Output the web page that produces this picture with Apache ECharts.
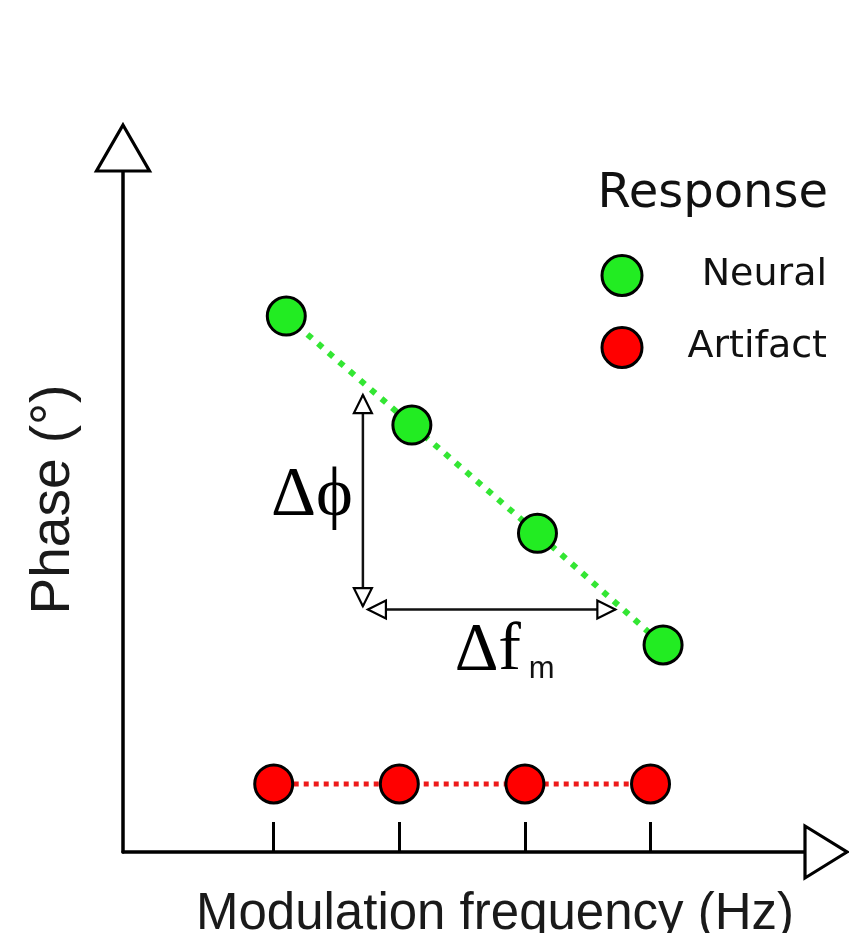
<!DOCTYPE html>
<html>
<head>
<meta charset="utf-8">
<script src="https://cdn.jsdelivr.net/npm/echarts@6/dist/echarts.min.js"></script>
<style>
html,body{margin:0;padding:0;background:#fff;}
#chart{width:849px;height:933px;}
</style>
</head>
<body>
<div id="chart"></div>
<script>
// ---- data ----
const tickValues = [1, 2, 3, 4];
const artifactX = [1, 2, 3, 4];
const artifactPhase = [10, 10, 10, 10];
const neuralX = [1.1, 2.1, 3.1, 4.1];
const neuralPhase = [78.7, 62.7, 46.8, 30.4];
// annotation arrows: [x1, y1, x2, y2, kind]
const deltaPhiArrow = [1.71, 36.1, 1.71, 67.1, 0];
const deltaFArrow = [1.75, 35.6, 3.72, 35.6, 1];
const xRange = [-0.2, 5.23];
const yRange = [0, 100];

const chart = echarts.init(document.getElementById('chart'), null, {renderer: 'canvas'});

function openTriangle(tip, dx, dy, len, half, lw) {
  const bx = tip[0] - dx * len, by = tip[1] - dy * len;
  const px = -dy, py = dx;
  return {
    type: 'polygon',
    shape: {points: [tip, [bx + px * half, by + py * half], [bx - px * half, by - py * half]]},
    style: {fill: '#fff', stroke: '#000', lineWidth: lw, lineJoin: 'miter'}
  };
}

function renderAnnot(params, api) {
  const p1 = api.coord([api.value(0), api.value(1)]);
  const p2 = api.coord([api.value(2), api.value(3)]);
  const kind = api.value(4);
  let dx = p2[0] - p1[0], dy = p2[1] - p1[1];
  const L = Math.sqrt(dx * dx + dy * dy);
  dx /= L; dy /= L;
  const children = [
    {type: 'line', shape: {x1: p1[0], y1: p1[1], x2: p2[0], y2: p2[1]}, style: {stroke: '#111', lineWidth: 2.5}},
    openTriangle(p1, -dx, -dy, 18, 9, 2.2),
    openTriangle(p2, dx, dy, 18, 9, 2.2)
  ];
  if (kind === 0) {
    const mid = (p1[1] + p2[1]) / 2;
    children.push({type: 'text', style: {text: 'Δϕ', x: p1[0] - 10, y: mid - 4,
      align: 'right', verticalAlign: 'middle', fontFamily: 'Liberation Serif', fontSize: 70, fill: '#000'}});
  } else {
    const mid = (p1[0] + p2[0]) / 2;
    children.push({type: 'text', style: {text: 'Δf', x: mid - 37, y: p1[1] + 42,
      align: 'left', verticalAlign: 'middle', fontFamily: 'Liberation Serif', fontSize: 68, fill: '#000'}});
    children.push({type: 'text', style: {text: 'm', x: mid + 37, y: p1[1] + 60,
      align: 'left', verticalAlign: 'middle', fontFamily: 'Liberation Sans', fontSize: 31, fill: '#111'}});
  }
  return {type: 'group', children};
}

function renderAxisArrows(params, api) {
  const p = api.coord([api.value(0), api.value(1)]);
  const kind = api.value(2);
  if (kind === 0) {
    return openTriangle([p[0] + 42, p[1]], 1, 0, 42, 26, 3.2);
  }
  return openTriangle([p[0], p[1] - 46], 0, -1, 46, 26.5, 3.2);
}

const option = {
  animation: false,
  backgroundColor: '#fff',
  title: {
    text: 'Response',
    right: 21, top: 171,
    padding: 0,
    textStyle: {fontFamily: 'DejaVu Sans', fontSize: 48, fontWeight: 'normal', color: '#111'}
  },
  legend: {
    data: ['Neural', 'Artifact'],
    orient: 'vertical',
    right: 22, top: 254,
    padding: 0,
    itemWidth: 40, itemHeight: 40,
    itemGap: 29,
    icon: 'circle',
    selectedMode: false,
    itemStyle: {borderColor: '#000', borderWidth: 3},
    formatter: function (n) { return '{t|' + n + '}'; },
    textStyle: {
      fontFamily: 'DejaVu Sans', fontSize: 38, color: '#111',
      rich: {t: {fontFamily: 'DejaVu Sans', fontSize: 38, color: '#111', width: 180, align: 'right'}}
    }
  },
  grid: {left: 123, right: 44, top: 171, bottom: 81, outerBoundsMode: 'none', containLabel: false},
  xAxis: {
    type: 'value', min: xRange[0], max: xRange[1],
    name: 'Modulation frequency (Hz)',
    nameLocation: 'middle', nameGap: 37,
    nameTextStyle: {fontFamily: 'Liberation Sans', fontSize: 51, color: '#1a1a1a', padding: [0, 0, 0, 62]},
    axisLine: {show: true, onZero: false, lineStyle: {color: '#000', width: 3.5}},
    axisTick: {show: true, inside: true, length: 30, customValues: tickValues, lineStyle: {color: '#000', width: 3}},
    axisLabel: {show: false},
    splitLine: {show: false}
  },
  yAxis: {
    type: 'value', min: yRange[0], max: yRange[1],
    name: 'Phase (°)',
    nameLocation: 'middle', nameGap: 42, nameRotate: 90,
    nameTextStyle: {fontFamily: 'Liberation Sans', fontSize: 55, color: '#1a1a1a', padding: [0, 0, 0, 24]},
    axisLine: {show: true, onZero: false, lineStyle: {color: '#000', width: 3.5}},
    axisTick: {show: false},
    axisLabel: {show: false},
    splitLine: {show: false}
  },
  series: [
    {
      name: 'Artifact', type: 'line',
      data: artifactX.map((x, i) => [x, artifactPhase[i]]),
      symbol: 'circle', symbolSize: 38,
      itemStyle: {color: '#ff0000', borderColor: '#000', borderWidth: 3},
      lineStyle: {color: '#ee1a1a', width: 5, type: [5, 5]},
      emphasis: {disabled: true}, z: 3
    },
    {
      name: 'Neural', type: 'line',
      data: neuralX.map((x, i) => [x, neuralPhase[i]]),
      symbol: 'circle', symbolSize: 38,
      itemStyle: {color: '#22ec22', borderColor: '#000', borderWidth: 3},
      lineStyle: {color: '#33e633', width: 6, type: [6, 8]},
      emphasis: {disabled: true}, z: 4
    },
    {
      type: 'custom', name: 'annotations',
      renderItem: renderAnnot,
      data: [deltaPhiArrow, deltaFArrow],
      encode: {x: [0, 2], y: [1, 3]},
      clip: false, silent: true, z: 2
    },
    {
      type: 'custom', name: 'axisArrows',
      renderItem: renderAxisArrows,
      data: [[xRange[1], yRange[0], 0], [xRange[0], yRange[1], 1]],
      encode: {x: 0, y: 1},
      clip: false, silent: true, z: 1
    }
  ]
};
chart.setOption(option);
</script>
</body>
</html>
